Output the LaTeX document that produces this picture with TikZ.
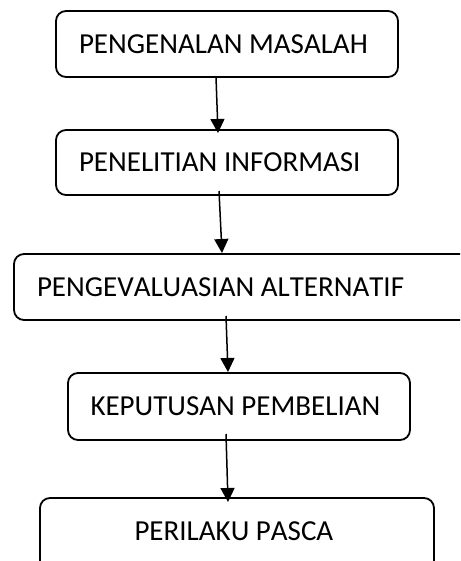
\documentclass[tikz,border=0pt]{standalone}
\usepackage{fontspec}
\setmainfont[Kerning=Off]{Carlito}
\usetikzlibrary{arrows.meta,calc}
\newcommand{\bxt}[3]{\makebox[#1][l]{\hspace*{#2}#3}}
\tikzset{
  flowbox/.style={draw=black, line width=1.8pt, rounded corners=10pt, inner xsep=0pt, inner ysep=0pt, outer sep=0pt,
    font=\fontsize{29}{34}\selectfont},
  flowarrow/.style={line width=1.5pt, -{Triangle[width=14pt,length=14pt]}}
}
\begin{document}
\begin{tikzpicture}[x=1pt,y=-1pt]
\useasboundingbox (0,0) rectangle (460,561);
\clip (0,0) rectangle (460,561);
\fill[white] (0,0) rectangle (460,561);
\node[flowbox, minimum width=342pt, minimum height=66pt] (b1) at (227,44) {\bxt{342pt}{23pt}{PENGENALAN MASALAH}};
\node[flowbox, minimum width=342pt, minimum height=65pt] (b2) at (227,162.5) {\bxt{342pt}{23pt}{PENELITIAN INFORMASI}};
\node[flowbox, minimum width=480pt, minimum height=66pt] (b3) at (254,287) {\bxt{480pt}{23pt}{PENGEVALUASIAN ALTERNATIF}};
\node[flowbox, minimum width=342pt, minimum height=67pt] (b4) at (239,406.5) {\bxt{342pt}{22.5pt}{KEPUTUSAN PEMBELIAN}};
\node[flowbox, minimum width=394pt, minimum height=100pt, text height=18.7pt, text depth=34.7pt] (b5) at (237,548) {\bxt{394pt}{94.5pt}{PERILAKU PASCA}};
\draw[flowarrow] ($(b1.south)+(-11,0)$) -- ($(b2.north)+(-9,3)$);
\draw[flowarrow] ($(b2.south)+(-8,-4)$) -- ($(b3.north)+(-32,-1)$);
\draw[flowarrow] ($(b3.south)+(-28,-4)$) -- ($(b4.north)+(-11,-1)$);
\draw[flowarrow] ($(b4.south)+(-13,-6)$) -- ($(b5.north)+(-9,4)$);
\end{tikzpicture}
\end{document}
